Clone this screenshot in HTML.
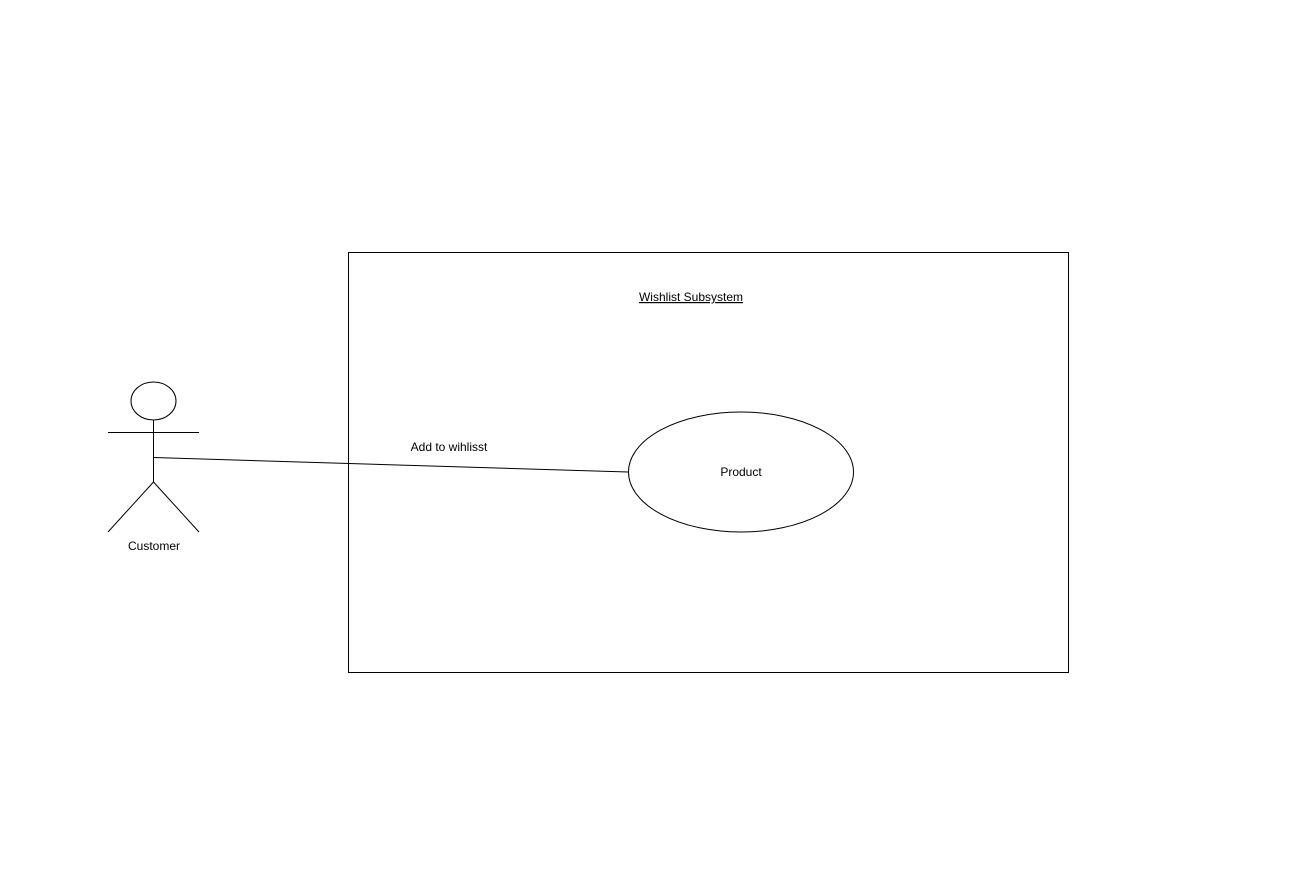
<!DOCTYPE html>
<html><head><meta charset="utf-8"><style>
html,body{margin:0;padding:0;background:#fff;}
svg{display:block;}
text{font-family:"Liberation Sans",Arial,sans-serif;font-size:12px;fill:#000;}
</style></head><body>
<svg width="1306" height="882" viewBox="0 0 1306 882" xmlns="http://www.w3.org/2000/svg">
<rect x="348.5" y="252.5" width="720" height="420" fill="#fff" stroke="#000" stroke-width="1"/>
<text x="691" y="301" text-anchor="middle" text-decoration="underline">Wishlist Subsystem</text>
<ellipse cx="153.5" cy="401" rx="22.5" ry="19" fill="#fff" stroke="#000"/>
<line x1="153.5" y1="420" x2="153.5" y2="482" stroke="#000"/>
<line x1="108" y1="432.5" x2="199" y2="432.5" stroke="#000"/>
<line x1="153.5" y1="482" x2="108" y2="532" stroke="#000"/>
<line x1="153.5" y1="482" x2="199" y2="532" stroke="#000"/>
<text x="154" y="550" text-anchor="middle">Customer</text>
<line x1="153.5" y1="457.5" x2="628" y2="472" stroke="#000"/>
<text x="449" y="451" text-anchor="middle">Add to wihlisst</text>
<ellipse cx="741" cy="472" rx="112.5" ry="60" fill="#fff" stroke="#000"/>
<text x="741" y="476" text-anchor="middle">Product</text>
</svg>
</body></html>
